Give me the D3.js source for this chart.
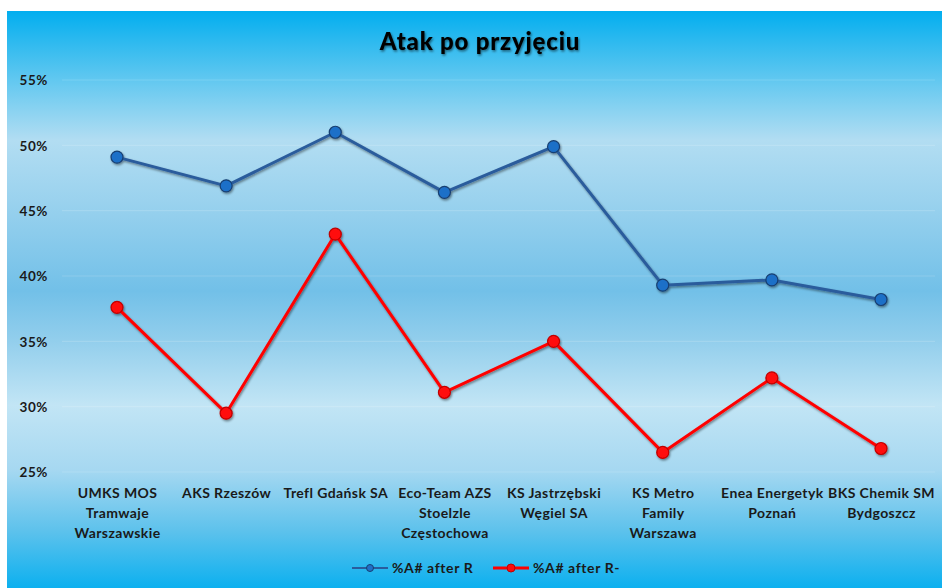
<!DOCTYPE html>
<html><head><meta charset="utf-8">
<script src="https://cdn.jsdelivr.net/npm/d3@7"></script>
<style>
html,body{margin:0;padding:0;background:#fff;}
svg{display:block;}
text{font-family:Lato,"Open Sans",sans-serif;}
</style></head>
<body>
<svg id="chart" width="942" height="588"></svg>
<script>
const title = "Atak po przyjęciu";
const categories = [
  "UMKS MOS\nTramwaje\nWarszawskie",
  "AKS Rzeszów",
  "Trefl Gdańsk SA",
  "Eco-Team AZS\nStoelzle\nCzęstochowa",
  "KS Jastrzębski\nWęgiel SA",
  "KS Metro\nFamily\nWarszawa",
  "Enea Energetyk\nPoznań",
  "BKS Chemik SM\nBydgoszcz"
];
const seriesNames = ["%A# after R", "%A# after R-"];
const afterR = [49.1, 46.9, 51.0, 46.4, 49.9, 39.3, 39.7, 38.2];
const afterRminus = [37.6, 29.5, 43.2, 31.1, 35.0, 26.5, 32.2, 26.8];
const yTicks = [25, 30, 35, 40, 45, 50, 55];

const svg = d3.select("#chart");
const W = 942, H = 588;
const defs = svg.append("defs");

const grad = defs.append("linearGradient").attr("id","bg").attr("x1",0).attr("y1",0).attr("x2",0).attr("y2",1);
[[0,"#02aeef"],[0.05,"#2bb9ef"],[0.12,"#62c8f0"],[0.224,"#b2ddf2"],[0.33,"#9ad2ee"],
 [0.485,"#72c0e8"],[0.57,"#92ceec"],[0.683,"#c2e5f5"],[0.795,"#a6d8f1"],[0.9,"#5ec2ec"],[1,"#0cb0ef"]]
 .forEach(([o,c])=>grad.append("stop").attr("offset",o).attr("stop-color",c));

const sh = defs.append("filter").attr("id","shadow").attr("x","-10%").attr("y","-10%").attr("width","120%").attr("height","130%");
sh.append("feDropShadow").attr("dx",1).attr("dy",1.5).attr("stdDeviation",1.2).attr("flood-color","#000").attr("flood-opacity",0.45);
const tsh = defs.append("filter").attr("id","tshadow").attr("x","-10%").attr("y","-30%").attr("width","120%").attr("height","160%");
tsh.append("feDropShadow").attr("dx",1).attr("dy",1.5).attr("stdDeviation",1.3).attr("flood-color","#000").attr("flood-opacity",0.5);

svg.append("rect").attr("x",7).attr("y",11).attr("width",W-7).attr("height",H-11).attr("fill","url(#bg)");

const x = d3.scalePoint().domain(categories).range([117, 881]);
const y = d3.scaleLinear().domain([25, 55]).range([472, 80]);

// gridlines
svg.append("g").selectAll("line").data(yTicks).join("line")
  .attr("x1",62).attr("x2",935).attr("y1",d=>y(d)).attr("y2",d=>y(d))
  .attr("stroke","#ffffff").attr("stroke-opacity",0.15).attr("stroke-width",1.2);

const labelFont = "Lato,sans-serif";
// y axis
const yAxis = svg.append("g").attr("transform","translate(48,0)")
  .call(d3.axisLeft(y).tickValues(yTicks).tickSize(0).tickPadding(0).tickFormat(d=>d+"%"));
yAxis.select(".domain").remove();
yAxis.selectAll("text").attr("font-size",13.5).attr("font-weight","bold").attr("fill","#1a1a1a")
  .attr("font-family",labelFont).attr("letter-spacing",0.6).attr("dy","0.35em");

// x axis labels
const xAxis = svg.append("g").attr("transform","translate(0,478)")
  .call(d3.axisBottom(x).tickSize(0).tickPadding(0));
xAxis.select(".domain").remove();
xAxis.selectAll(".tick text").each(function(d){
  const t = d3.select(this);
  t.text(null).attr("y",0).attr("dy",null)
   .attr("font-size",14).attr("font-weight","bold").attr("fill","#1a1a1a")
   .attr("font-family",labelFont).attr("letter-spacing",0.4);
  d.split("\n").forEach((line,i)=>{
    t.append("tspan").attr("x",0).attr("y",20 + i*20).text(line);
  });
});

// lines
const series = [
  {name:seriesNames[0], values:afterR, line:"#2a5c9c", fill:"#1f70c8", stroke:"#163f72"},
  {name:seriesNames[1], values:afterRminus, line:"#ff0000", fill:"#ff0a0a", stroke:"#c00000"}
];
const lineGen = d3.line().x((d,i)=>x(categories[i])).y(d=>y(d));
series.forEach(s=>{
  const g = svg.append("g").attr("filter","url(#shadow)");
  g.append("path").datum(s.values).attr("d",lineGen).attr("fill","none")
    .attr("stroke",s.line).attr("stroke-width",3).attr("stroke-linejoin","round");
  g.selectAll("circle").data(s.values).join("circle")
    .attr("cx",(d,i)=>x(categories[i])).attr("cy",d=>y(d)).attr("r",6)
    .attr("fill",s.fill).attr("stroke",s.stroke).attr("stroke-width",1.2);
});

// title
svg.append("text").attr("x",480).attr("y",50).attr("text-anchor","middle")
  .attr("font-size",24).attr("font-weight","900").attr("fill","#000").attr("letter-spacing",0.8)
  .attr("filter","url(#tshadow)").text(title);

// legend
const legendPos = [352, 493];
series.forEach((s,i)=>{
  const lg = svg.append("g").attr("transform",`translate(${legendPos[i]},568)`);
  lg.append("line").attr("x1",0).attr("x2",36).attr("y1",0).attr("y2",0)
    .attr("stroke",s.line).attr("stroke-width",i===0?2:3);
  lg.append("circle").attr("cx",18).attr("cy",0).attr("r",i===0?3.5:4)
    .attr("fill",s.fill).attr("stroke",s.stroke).attr("stroke-width",1);
  lg.append("text").attr("x",40).attr("y",0).attr("dy","0.35em")
    .attr("font-size",14).attr("font-weight","bold").attr("fill","#1a1a1a")
    .attr("letter-spacing",0.6).text(s.name);
});
</script>
</body></html>
